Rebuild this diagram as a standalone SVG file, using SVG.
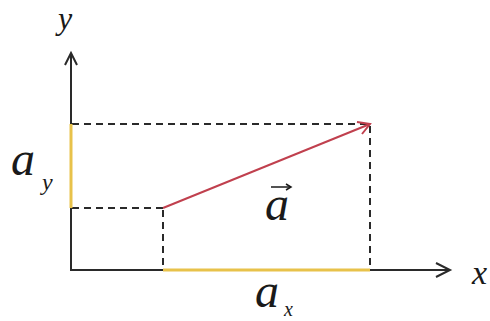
<svg xmlns="http://www.w3.org/2000/svg" width="490" height="321" viewBox="0 0 490 321">
<defs>
<style>
.axis{stroke:#2a2a2a;stroke-width:2;fill:none}
.dash{stroke:#2a2a2a;stroke-width:2;stroke-dasharray:7 5;fill:none}
.comp{stroke:#e8c24a;stroke-width:3;fill:none}
.vec{stroke:#c0404e;stroke-width:2;fill:none}
.lbl{font-family:"Liberation Serif","Times New Roman",serif;font-style:italic;fill:#1a1a1a}
</style>
</defs>
<rect width="490" height="321" fill="#ffffff"/>
<g id="connectors">
<g id="y-axis">
<line class="axis" x1="71" y1="271" x2="71" y2="54"/>
<polyline class="axis" points="65,65 71,53 77,65"/>
</g>
<g id="x-axis">
<line class="axis" x1="70" y1="270" x2="450" y2="270"/>
<polyline class="axis" points="436,263 450,270 436,277"/>
</g>
<g id="dashed-guides">
<line class="dash" x1="72" y1="124" x2="370" y2="124"/>
<line class="dash" x1="72" y1="208" x2="163" y2="208"/>
<line class="dash" x1="163" y1="210" x2="163" y2="269"/>
<line class="dash" x1="370" y1="126" x2="370" y2="269"/>
</g>
<g id="component-y">
<line class="comp" x1="71" y1="124" x2="71" y2="208"/>
</g>
<g id="component-x">
<line class="comp" x1="163" y1="270" x2="370" y2="270"/>
</g>
<g id="vector-a">
<line class="vec" x1="163" y1="208" x2="370" y2="124"/>
<polyline class="vec" points="357,122 370,124 362,134"/>
</g>
</g>
<g id="label-y"><text class="lbl" x="58" y="29" font-size="32">y</text></g>
<g id="label-x"><text class="lbl" x="472" y="284" font-size="34">x</text></g>
<g id="label-ay">
<text class="lbl" x="11" y="175" font-size="48">a</text>
<text class="lbl" x="42" y="190" font-size="24">y</text>
</g>
<g id="label-ax">
<text class="lbl" x="255" y="307" font-size="48">a</text>
<text class="lbl" x="284" y="316" font-size="20">x</text>
</g>
<g id="label-a-vec">
<text class="lbl" x="265" y="220" font-size="48">a</text>
<line x1="271" y1="187" x2="291" y2="187" stroke="#1a1a1a" stroke-width="1.5"/>
<polyline points="286,184 291,187 286,190" stroke="#1a1a1a" stroke-width="1.5" fill="none"/>
</g>
</svg>
